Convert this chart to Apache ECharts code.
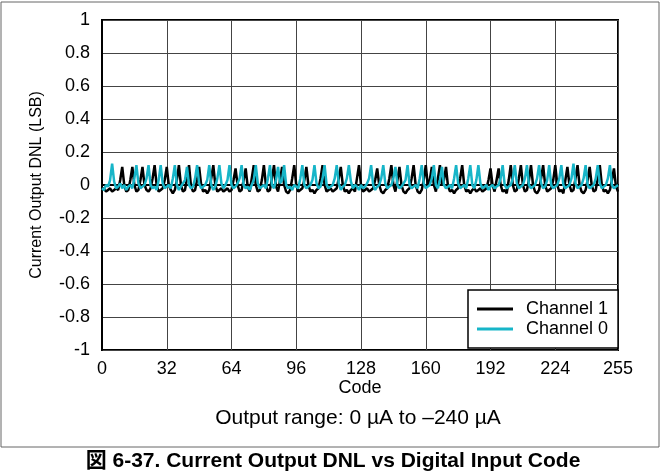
<!DOCTYPE html>
<html><head><meta charset="utf-8">
<script src="https://cdn.jsdelivr.net/npm/echarts@6/dist/echarts.min.js"></script>
<style>html,body{margin:0;padding:0;background:#fff}#c{width:661px;height:476px}</style>
</head><body><div id="c"></div>
<script>
const xTicks = [0,32,64,96,128,160,192,224,255];
const yTicks = [-1,-0.8,-0.6,-0.4,-0.2,0,0.2,0.4,0.6,0.8,1];
const seriesNames = ["Channel 1","Channel 0"];
const channel1 = [
-0.03,-0.02,-0.04,-0.03,-0.02,-0.04,-0.03,-0.02,-0.03,0.03,0.11,0.0,-0.04,-0.03,0.03,0.11,
0.0,-0.04,-0.03,0.03,0.11,0.0,-0.03,-0.04,-0.02,0.04,0.12,0.0,-0.04,-0.03,-0.02,0.03,
0.11,0.0,-0.03,-0.05,-0.03,0.03,0.12,0.0,-0.04,-0.03,0.04,0.12,-0.01,-0.04,-0.03,0.03,
0.11,0.0,-0.04,-0.03,-0.05,-0.03,0.04,0.12,0.0,-0.04,-0.03,-0.02,-0.04,-0.03,-0.02,-0.04,
-0.03,0.03,0.10,0.0,-0.04,-0.03,0.03,0.10,-0.01,-0.04,0.04,0.12,0.0,-0.04,-0.03,0.03,
0.12,0.0,-0.04,-0.03,0.04,0.12,-0.01,-0.04,0.03,0.11,0.0,-0.04,-0.05,-0.03,0.04,0.12,
0.0,-0.04,-0.03,-0.02,0.03,0.11,0.0,-0.04,-0.03,-0.05,-0.03,-0.02,0.04,0.12,0.0,-0.04,
-0.03,-0.02,-0.04,-0.03,-0.02,0.04,0.11,0.0,-0.04,-0.03,-0.05,-0.03,-0.02,-0.04,0.04,0.12,
0.0,-0.04,-0.03,-0.02,-0.04,-0.03,-0.02,0.03,0.10,0.0,-0.04,-0.05,-0.03,-0.02,0.04,0.12,
0.0,-0.04,0.03,0.11,0.0,-0.04,-0.05,-0.03,-0.02,0.04,0.12,0.0,-0.04,-0.05,-0.03,0.03,
0.12,0.0,0.03,0.11,0.0,-0.04,0.04,0.12,0.0,0.03,0.11,-0.01,-0.04,-0.03,-0.05,-0.03,
-0.02,0.04,0.12,0.0,-0.04,-0.03,-0.05,-0.03,-0.02,-0.04,-0.03,-0.02,-0.04,-0.03,-0.02,0.03,
0.10,0.0,-0.04,0.03,0.10,0.0,-0.04,-0.03,-0.05,0.03,0.12,0.0,-0.04,-0.03,0.04,0.12,
0.0,-0.04,-0.03,0.03,0.12,0.0,-0.04,-0.05,-0.03,0.04,0.12,0.0,-0.04,-0.03,-0.02,0.03,
0.12,0.0,-0.04,-0.03,-0.05,0.03,0.11,0.0,-0.04,-0.03,0.04,0.12,0.0,-0.04,-0.05,-0.03,
0.03,0.11,0.0,-0.04,-0.03,0.04,0.12,0.0,-0.04,-0.03,-0.05,-0.03,0.03,0.10,-0.01,-0.04
];
const channel0 = [
-0.02,-0.03,0.0,-0.01,0.03,0.13,0.02,-0.02,-0.01,0.01,-0.02,0.0,-0.03,-0.01,0.0,-0.02,
0.04,0.12,0.01,-0.02,-0.01,0.0,0.04,0.12,0.0,-0.02,-0.01,-0.03,0.03,0.12,0.01,-0.02,
-0.01,0.0,-0.02,0.04,0.12,0.0,-0.03,-0.01,0.01,0.03,0.11,0.0,-0.02,-0.01,0.04,0.12,
0.01,-0.02,-0.01,0.0,0.03,0.12,0.0,-0.03,-0.01,0.04,0.12,0.01,-0.02,0.0,0.03,0.12,
0.0,-0.02,-0.01,0.01,0.04,0.12,0.0,-0.02,-0.01,-0.03,0.0,0.03,0.12,0.01,-0.02,-0.01,
0.0,-0.02,0.04,0.12,0.0,-0.02,0.03,0.11,0.01,0.03,0.12,0.0,-0.02,-0.01,-0.03,0.0,
-0.01,-0.02,0.04,0.12,0.0,-0.02,-0.01,0.0,0.03,0.12,0.01,-0.02,-0.01,0.04,0.12,0.0,
-0.02,-0.01,0.0,0.04,0.12,0.01,-0.03,-0.01,0.0,0.04,0.12,0.02,-0.02,0.0,-0.01,-0.03,
0.0,-0.02,-0.01,0.01,0.04,0.12,0.0,-0.03,-0.01,0.0,0.04,0.12,0.01,-0.02,-0.01,0.0,
0.04,0.11,0.0,-0.02,-0.01,0.01,0.03,0.12,0.0,-0.02,-0.01,0.0,-0.02,0.04,0.12,0.01,
-0.02,-0.01,0.0,0.04,0.12,0.0,-0.02,0.03,0.11,0.0,-0.02,-0.01,0.0,-0.02,0.04,0.12,
0.01,-0.02,-0.01,0.0,-0.02,0.04,0.12,0.0,-0.02,0.03,0.12,0.01,-0.02,-0.01,0.0,-0.03,
-0.01,0.0,-0.02,-0.01,0.0,0.04,0.12,0.0,-0.02,-0.01,0.0,0.04,0.12,0.01,-0.02,-0.01,
0.0,0.04,0.12,0.0,-0.02,-0.01,0.0,0.04,0.12,0.01,-0.02,-0.01,0.03,0.12,0.0,-0.02,
-0.01,0.0,0.04,0.12,0.0,-0.02,-0.01,0.0,0.04,0.13,0.01,-0.02,-0.01,0.0,0.04,0.12,
0.0,-0.02,-0.01,0.0,0.04,0.12,0.01,-0.02,-0.01,0.0,0.04,0.12,0.0,-0.02,-0.01,0.0
];
const pairs = arr => arr.map((v,i) => [i, v]);
const font = '"Liberation Sans", Arial, sans-serif';
const chart = echarts.init(document.getElementById('c'), null, {renderer:'canvas'});
chart.setOption({
  animation:false,
  backgroundColor:'#fff',
  grid:{left:102, right:43, top:20, bottom:126, show:true, borderColor:'#000', borderWidth:2, containLabel:false},
  xAxis:{type:'value', min:0, max:255, interval:32,
    name:'Code', nameLocation:'middle', nameGap:29, nameMoveOverlap:false, nameTextStyle:{fontFamily:font, fontSize:18, color:'#000'},
    axisLine:{show:true, lineStyle:{color:'#000', width:2}}, axisTick:{show:false},
    axisLabel:{customValues:xTicks, fontFamily:font, fontSize:18, color:'#000', margin:10},
    splitLine:{show:true, lineStyle:{color:'#444', width:1}}},
  yAxis:{type:'value', min:-1, max:1, interval:0.2,
    name:'Current Output DNL (LSB)', nameLocation:'middle', nameGap:57, nameRotate:90, nameMoveOverlap:false,
    nameTextStyle:{fontFamily:font, fontSize:16, color:'#000'},
    axisLine:{show:true, lineStyle:{color:'#000', width:2}}, axisTick:{show:false},
    axisLabel:{fontFamily:font, fontSize:18, color:'#000', margin:12,
      formatter:v => { const t = yTicks.find(x => Math.abs(x - v) < 1e-9); return t === undefined ? '' : String(+t.toFixed(1)); }},
    splitLine:{show:true, lineStyle:{color:'#444', width:1}}},
  legend:{orient:'vertical', left:468, top:290, itemWidth:36, itemHeight:3, itemGap:2,
    icon:'rect', backgroundColor:'#fff', borderColor:'#000', borderWidth:1.5, borderRadius:0,
    padding:[10,10,10,9],
    textStyle:{fontFamily:font, fontSize:18, color:'#000', padding:[0,0,0,8]}, data:seriesNames},
  series:[
    {name:seriesNames[0], type:'line', data:pairs(channel1), showSymbol:false, color:'#000', lineStyle:{width:2.5, color:'#000'}},
    {name:seriesNames[1], type:'line', data:pairs(channel0), showSymbol:false, color:'#17b5c8', lineStyle:{width:2.5, color:'#17b5c8'}}
  ],
  graphic:[
    {type:'rect', shape:{x:1, y:2, width:658, height:445}, style:{fill:null, stroke:'#666', lineWidth:1}, silent:true},
    {type:'text', x:358, y:418, style:{text:'Output range: 0 µA to –240 µA', font:'21px ' + font, fill:'#000', align:'center', verticalAlign:'middle'}},
    {type:'text', x:333, y:461, style:{text:'図 6-37. Current Output DNL vs Digital Input Code', font:'bold 21px ' + font + ', "Noto Sans CJK JP"', fill:'#000', align:'center', verticalAlign:'middle'}}
  ]
});
</script></body></html>
